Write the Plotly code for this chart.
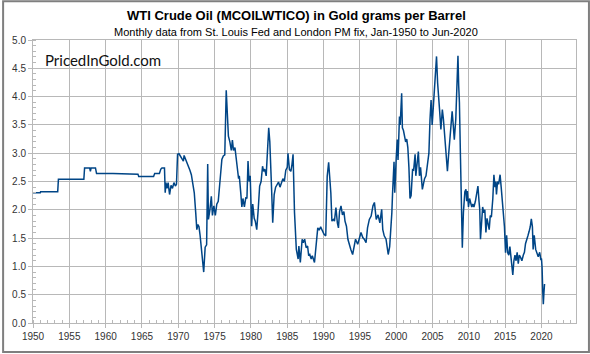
import plotly.graph_objects as go

years = [
    1950.0, 1951.0, 1951.05, 1953.4, 1953.5, 1957.0, 1957.1, 1957.8, 1957.9, 1958.0,
    1958.6, 1958.75, 1961.0, 1963.0, 1964.45, 1964.55, 1966.6, 1966.75, 1967.4, 1967.6,
    1967.75, 1968.1, 1968.2, 1968.3, 1968.45, 1968.6, 1968.8, 1969.0, 1969.2, 1969.4,
    1969.6, 1969.75, 1969.9, 1970.1, 1970.3, 1970.5, 1970.7, 1970.8, 1971.0, 1971.2,
    1971.4, 1971.6, 1971.8, 1972.0, 1972.2, 1972.4, 1972.55, 1972.7, 1972.85, 1973.0,
    1973.2, 1973.35, 1973.5, 1973.7, 1973.9, 1974.05, 1974.15, 1974.35, 1974.55, 1974.7,
    1974.9, 1975.1, 1975.3, 1975.5, 1975.7, 1975.85, 1976.0, 1976.2, 1976.4, 1976.6,
    1976.75, 1976.9, 1977.1, 1977.3, 1977.45, 1977.6, 1977.8, 1977.95, 1978.1, 1978.3,
    1978.4, 1978.6, 1978.75, 1978.9, 1979.1, 1979.3, 1979.45, 1979.6, 1979.75, 1979.9,
    1980.1, 1980.25, 1980.45, 1980.6, 1980.8, 1981.0, 1981.2, 1981.4, 1981.6, 1981.75,
    1981.9, 1982.1, 1982.3, 1982.45, 1982.6, 1982.75, 1982.85, 1983.0, 1983.2, 1983.4,
    1983.6, 1983.8, 1984.0, 1984.2, 1984.4, 1984.6, 1984.8, 1985.0, 1985.1, 1985.3,
    1985.5, 1985.65, 1985.8, 1986.0, 1986.25, 1986.5, 1986.6, 1986.8, 1986.9, 1987.05,
    1987.2, 1987.4, 1987.6, 1987.8, 1987.95, 1988.1, 1988.3, 1988.45, 1988.75, 1988.95,
    1989.2, 1989.4, 1989.6, 1989.8, 1990.05, 1990.3, 1990.5, 1990.7, 1990.85, 1991.0,
    1991.15, 1991.35, 1991.5, 1991.7, 1991.9, 1992.05, 1992.2, 1992.4, 1992.6, 1992.8,
    1992.95, 1993.15, 1993.35, 1993.5, 1993.75, 1994.0, 1994.2, 1994.4, 1994.7, 1994.9,
    1995.15, 1995.4, 1995.6, 1995.85, 1996.05, 1996.3, 1996.55, 1996.8, 1997.0, 1997.25,
    1997.5, 1997.75, 1998.0, 1998.15, 1998.35, 1998.6, 1998.75, 1998.9, 1999.1, 1999.25,
    1999.4, 1999.5, 1999.6, 1999.7, 1999.8, 1999.9, 2000.0, 2000.15, 2000.25, 2000.45,
    2000.55, 2000.75, 2000.85, 2001.0, 2001.15, 2001.3, 2001.45, 2001.6, 2001.75, 2001.9,
    2002.05, 2002.25, 2002.4, 2002.6, 2002.7, 2002.85, 2003.05, 2003.2, 2003.35, 2003.6,
    2003.75, 2003.9, 2004.1, 2004.3, 2004.5, 2004.65, 2004.8, 2004.95, 2005.1, 2005.3,
    2005.55, 2005.7, 2005.8, 2005.95, 2006.15, 2006.35, 2006.5, 2006.75, 2006.9, 2007.05,
    2007.2, 2007.4, 2007.6, 2007.7, 2007.85, 2008.0, 2008.2, 2008.35, 2008.5, 2008.6,
    2008.7, 2008.85, 2008.95, 2009.1, 2009.25, 2009.45, 2009.6, 2009.7, 2009.8, 2009.95,
    2010.1, 2010.25, 2010.4, 2010.55, 2010.7, 2010.9, 2011.1, 2011.25, 2011.4, 2011.5,
    2011.6, 2011.75, 2011.9, 2012.05, 2012.2, 2012.35, 2012.5, 2012.65, 2012.8, 2012.95,
    2013.1, 2013.3, 2013.45, 2013.6, 2013.7, 2013.8, 2013.95, 2014.1, 2014.3, 2014.45,
    2014.6, 2014.75, 2014.9, 2015.05, 2015.2, 2015.35, 2015.5, 2015.65, 2015.8, 2016.05,
    2016.2, 2016.35, 2016.5, 2016.65, 2016.8, 2016.95, 2017.15, 2017.3, 2017.5, 2017.65,
    2017.8, 2017.95, 2018.15, 2018.3, 2018.45, 2018.6, 2018.75, 2018.85, 2019.0, 2019.2,
    2019.35, 2019.55, 2019.75, 2019.9, 2020.0, 2020.08, 2020.17, 2020.25, 2020.33, 2020.42,
]
grams = [
    2.30, 2.30, 2.32, 2.32, 2.54, 2.54, 2.74, 2.74, 2.68, 2.74,
    2.74, 2.64, 2.64, 2.63, 2.63, 2.59, 2.59, 2.64, 2.64, 2.72,
    2.74, 2.74, 2.30, 2.48, 2.38, 2.48, 2.27, 2.43, 2.38, 2.48,
    2.42, 2.45, 2.98, 2.99, 2.95, 2.90, 2.86, 2.96, 2.90, 2.82,
    2.77, 2.70, 2.62, 2.45, 2.30, 1.95, 1.65, 1.74, 1.70, 1.55,
    1.30, 1.20, 0.90, 1.34, 1.38, 2.81, 1.83, 2.00, 2.24, 1.90,
    2.07, 1.90, 2.10, 2.15, 2.42, 2.55, 2.89, 2.95, 2.97, 4.11,
    3.60, 3.30, 3.20, 3.05, 3.23, 3.05, 3.10, 2.89, 2.77, 2.55,
    2.60, 2.30, 2.05, 2.20, 2.05, 2.22, 2.20, 2.86, 2.50, 2.60,
    1.71, 2.10, 1.85, 1.80, 1.65, 2.00, 2.42, 2.50, 2.77, 2.68,
    2.72, 2.60, 3.18, 3.45, 3.20, 2.80, 2.35, 1.77, 2.27, 2.40,
    2.45, 2.49, 2.40, 2.50, 2.55, 2.50, 2.70, 2.75, 3.00, 2.71,
    2.68, 2.80, 2.98, 1.95, 1.30, 1.13, 1.36, 1.07, 1.30, 1.48,
    1.42, 1.48, 1.33, 1.36, 1.19, 1.21, 1.13, 1.19, 1.07, 1.36,
    1.68, 1.64, 1.70, 1.64, 1.57, 1.54, 2.59, 2.84, 2.59, 2.30,
    1.80, 1.83, 1.80, 2.04, 1.77, 1.68, 1.97, 2.07, 1.91, 1.97,
    1.80, 1.71, 1.48, 1.39, 1.30, 1.21, 1.36, 1.48, 1.39, 1.48,
    1.60, 1.51, 1.48, 1.42, 1.68, 1.83, 1.89, 2.07, 2.13, 1.83,
    1.91, 1.77, 2.01, 1.65, 1.54, 1.48, 1.36, 1.21, 1.35, 1.60,
    1.95, 2.30, 2.65, 2.85, 2.30, 2.75, 2.92, 3.24, 2.88, 3.65,
    3.50, 4.06, 3.45, 3.40, 3.30, 3.20, 3.25, 3.10, 2.75, 2.20,
    2.25, 2.71, 2.70, 2.98, 2.60, 2.80, 3.03, 2.60, 2.75, 2.36,
    2.50, 2.55, 2.60, 2.83, 3.00, 3.59, 3.94, 3.50, 3.86, 4.24,
    4.71, 4.24, 4.00, 3.80, 3.42, 3.77, 3.60, 3.12, 2.95, 2.68,
    2.95, 3.30, 3.50, 3.74, 3.50, 3.24, 3.60, 4.25, 4.72, 4.20,
    3.90, 2.90, 2.20, 1.33, 1.95, 2.32, 2.36, 2.15, 2.33, 2.05,
    2.20, 2.12, 2.05, 2.10, 2.05, 2.15, 2.30, 2.42, 2.15, 2.00,
    1.48, 1.90, 2.05, 1.95, 2.00, 1.60, 1.85, 1.75, 1.65, 1.90,
    1.87, 2.20, 2.62, 2.40, 2.50, 2.27, 2.50, 2.45, 2.62, 2.40,
    2.15, 2.00, 1.70, 1.24, 1.55, 1.24, 1.20, 1.35, 1.10, 0.85,
    1.10, 1.20, 1.10, 1.25, 1.05, 1.20, 1.15, 1.10, 1.20, 1.25,
    1.40, 1.45, 1.55, 1.62, 1.70, 1.84, 1.70, 1.30, 1.55, 1.30,
    1.25, 1.17, 1.25, 1.13, 1.14, 0.98, 0.57, 0.33, 0.52, 0.69,
]

title = "WTI Crude Oil (MCOILWTICO) in Gold grams per Barrel"
subtitle = "Monthly data from St. Louis Fed and London PM fix, Jan-1950 to Jun-2020"
logo = "PricedInGold.com"

W, H = 590, 354
L, R, T, B = 31, 14, 40, 30
pw, ph = W - L - R, H - T - B

fig = go.Figure()
fig.add_trace(go.Scatter(x=years, y=grams, mode="lines",
                         line=dict(color="#004586", width=1.5), hoverinfo="skip"))

grid = "#b8b8b8"
fig.update_layout(
    width=W, height=H, margin=dict(l=L, r=R, t=T, b=B),
    paper_bgcolor="white", plot_bgcolor="white", showlegend=False,
    font=dict(family="Liberation Sans, Arial, sans-serif", color="#333333", size=10),
    xaxis=dict(range=[1950, 2024.75], tick0=1950, dtick=5, tickformat="d",
               showgrid=True, gridcolor=grid, gridwidth=1, zeroline=False,
               showline=True, linecolor=grid, mirror=True,
               ticks="outside", ticklen=4, tickcolor=grid,
               minor=dict(dtick=1, ticks="inside", ticklen=3, tickcolor=grid, showgrid=False),
               tickfont=dict(size=10, color="#333333")),
    yaxis=dict(range=[0, 5], tick0=0, dtick=0.5, tickformat=".1f",
               showgrid=True, gridcolor=grid, gridwidth=1, zeroline=False,
               showline=True, linecolor=grid, mirror=True,
               ticks="outside", ticklen=4, tickcolor=grid,
               minor=dict(dtick=0.1, ticks="inside", ticklen=3, tickcolor=grid, showgrid=False),
               tickfont=dict(size=10, color="#333333")),
)

fig.add_annotation(text="<b>" + title + "</b>", xref="paper", yref="paper",
                   x=(W / 2 - L) / pw, y=1 + (T - 15) / ph, xanchor="center", yanchor="middle",
                   showarrow=False, font=dict(size=13, color="#000000"))
fig.add_annotation(text=subtitle, xref="paper", yref="paper",
                   x=(W / 2 - L) / pw, y=1 + (T - 32) / ph, xanchor="center", yanchor="middle",
                   showarrow=False, font=dict(size=11, color="#000000"))
fig.add_annotation(text=logo, xref="paper", yref="paper",
                   x=(41 - L) / pw, y=1 - (60 - T) / ph, xanchor="left", yanchor="middle",
                   showarrow=False, font=dict(size=15, color="#111111", family="Lato, sans-serif"))

fig.add_shape(type="rect", xref="paper", yref="paper",
              x0=(-L + 1) / pw, x1=1 + (R - 1) / pw, y0=(-B + 1) / ph, y1=1 + (T - 1) / ph,
              line=dict(color="#7f7f7f", width=2), fillcolor="rgba(0,0,0,0)", layer="above")

fig.write_html("out.html")
